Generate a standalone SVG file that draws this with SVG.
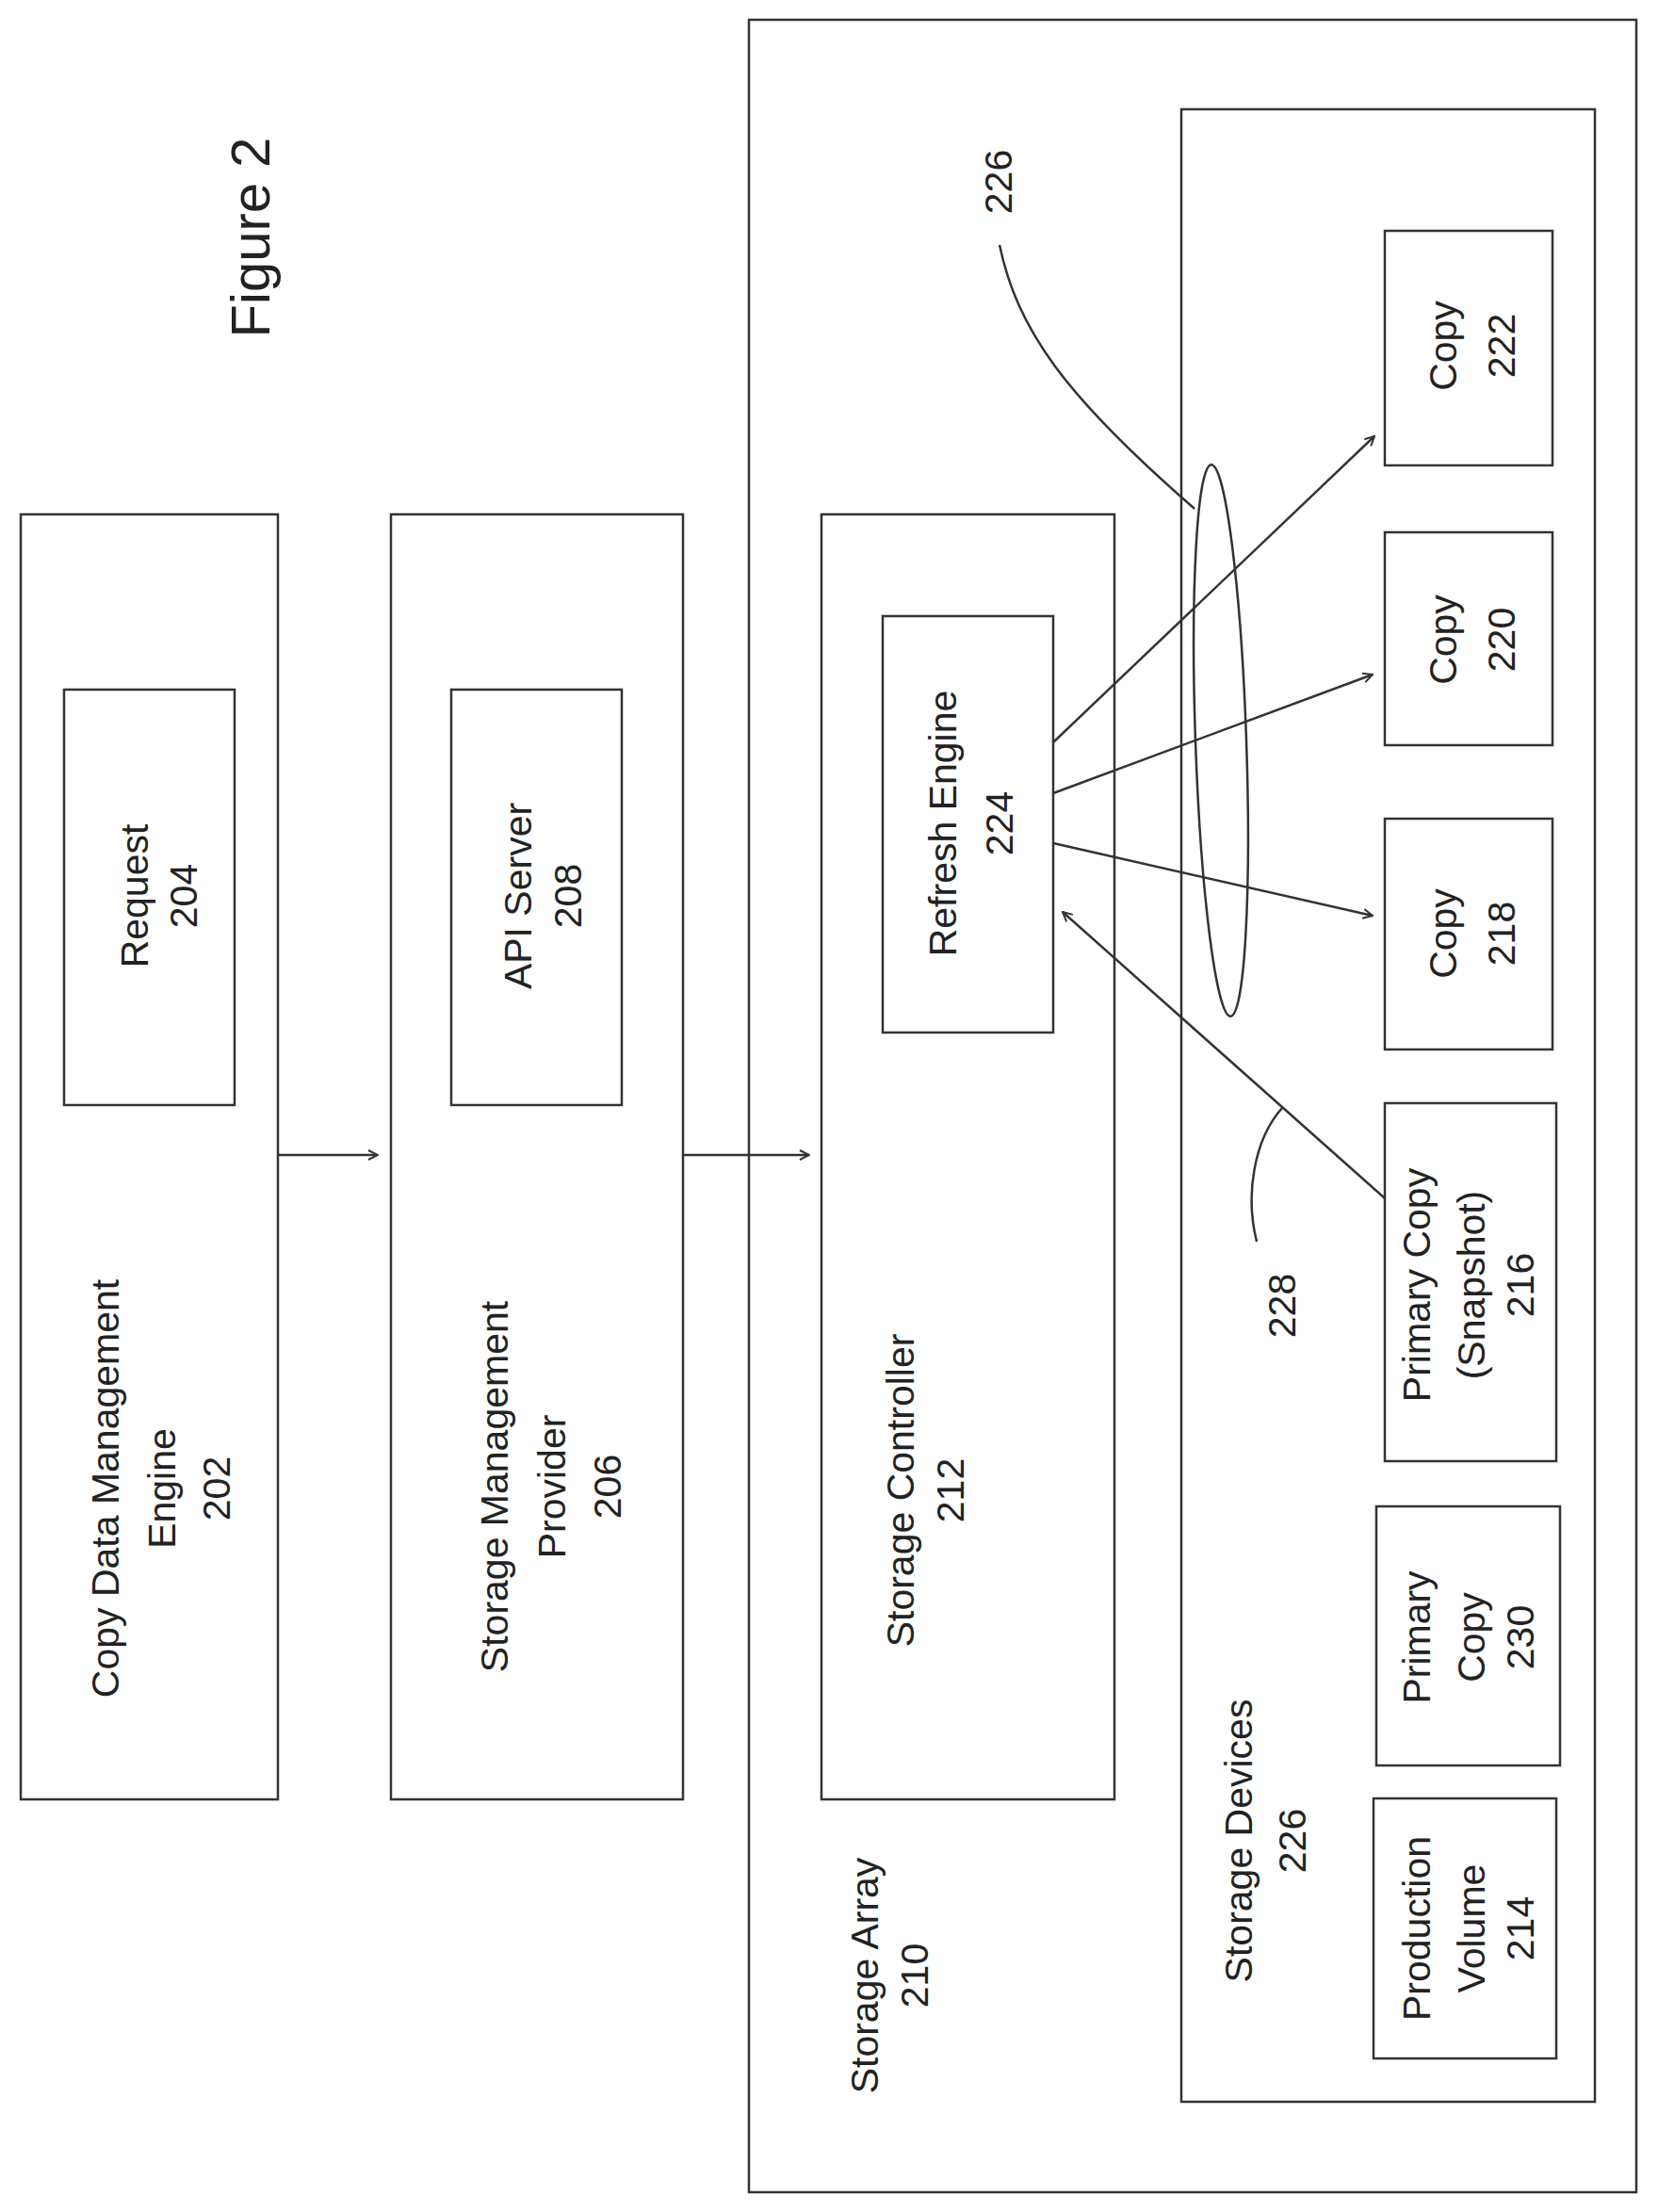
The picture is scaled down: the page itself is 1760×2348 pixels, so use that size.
<svg xmlns="http://www.w3.org/2000/svg" width="1760" height="2348" viewBox="0 0 1760 2348">
<defs>
<style>
rect{fill:none;stroke:#333;stroke-width:2.5}
.c{fill:none;stroke:#333;stroke-width:2.5}
text{font-family:"Liberation Sans",Arial,sans-serif;font-size:41px;fill:#222;text-anchor:middle}
</style>
<marker id="a" viewBox="0 0 12 12" refX="11" refY="6" markerWidth="12" markerHeight="12" markerUnits="userSpaceOnUse" orient="auto">
<path d="M1,1 L11,6 L1,11" fill="none" stroke="#333" stroke-width="2"/>
</marker>
</defs>
<rect width="1760" height="2348" style="fill:#fff;stroke:none"/>
<text transform="translate(266,252) rotate(-90)" dy="0.35em" style="font-size:58px">Figure 2</text>
<g id="n202"><rect x="22" y="546" width="273" height="1364"/>
<text transform="translate(112,1580) rotate(-90)" dy="0.35em">Copy Data Management</text>
<text transform="translate(172,1580) rotate(-90)" dy="0.35em">Engine</text>
<text transform="translate(230,1580) rotate(-90)" dy="0.35em">202</text></g>
<g id="n204"><rect x="68" y="732" width="181" height="441"/>
<text transform="translate(143,951) rotate(-90)" dy="0.35em">Request</text>
<text transform="translate(195,951) rotate(-90)" dy="0.35em">204</text></g>
<g id="n206"><rect x="415" y="546" width="310" height="1364"/>
<text transform="translate(525,1578) rotate(-90)" dy="0.35em">Storage Management</text>
<text transform="translate(586,1578) rotate(-90)" dy="0.35em">Provider</text>
<text transform="translate(645,1578) rotate(-90)" dy="0.35em">206</text></g>
<g id="n208"><rect x="479" y="732" width="181" height="441"/>
<text transform="translate(550,951) rotate(-90)" dy="0.35em">API Server</text>
<text transform="translate(603,951) rotate(-90)" dy="0.35em">208</text></g>
<g id="n210"><rect x="795" y="21" width="942" height="2306"/>
<text transform="translate(918,2097) rotate(-90)" dy="0.35em">Storage Array</text>
<text transform="translate(971,2097) rotate(-90)" dy="0.35em">210</text></g>
<g id="n212"><rect x="872" y="546" width="311" height="1364"/>
<text transform="translate(956,1582) rotate(-90)" dy="0.35em">Storage Controller</text>
<text transform="translate(1009,1582) rotate(-90)" dy="0.35em">212</text></g>
<g id="n224"><rect x="937" y="654" width="181" height="442"/>
<text transform="translate(1001,874) rotate(-90)" dy="0.35em">Refresh Engine</text>
<text transform="translate(1061,874) rotate(-90)" dy="0.35em">224</text></g>
<g id="n226"><rect x="1254" y="116" width="439" height="2115"/>
<text transform="translate(1315,1954) rotate(-90)" dy="0.35em">Storage Devices</text>
<text transform="translate(1372,1954) rotate(-90)" dy="0.35em">226</text></g>
<g id="n222"><rect x="1470" y="245" width="178" height="249"/>
<text transform="translate(1532,367) rotate(-90)" dy="0.35em">Copy</text>
<text transform="translate(1594,367) rotate(-90)" dy="0.35em">222</text></g>
<g id="n220"><rect x="1470" y="565" width="178" height="226"/>
<text transform="translate(1532,679) rotate(-90)" dy="0.35em">Copy</text>
<text transform="translate(1594,679) rotate(-90)" dy="0.35em">220</text></g>
<g id="n218"><rect x="1470" y="869" width="178" height="245"/>
<text transform="translate(1532,991) rotate(-90)" dy="0.35em">Copy</text>
<text transform="translate(1594,991) rotate(-90)" dy="0.35em">218</text></g>
<g id="n216"><rect x="1470" y="1171" width="182" height="380"/>
<text transform="translate(1504,1364) rotate(-90)" dy="0.35em">Primary Copy</text>
<text transform="translate(1562,1364) rotate(-90)" dy="0.35em">(Snapshot)</text>
<text transform="translate(1614,1364) rotate(-90)" dy="0.35em">216</text></g>
<g id="n230"><rect x="1461" y="1599" width="195" height="275"/>
<text transform="translate(1504,1738) rotate(-90)" dy="0.35em">Primary</text>
<text transform="translate(1562,1738) rotate(-90)" dy="0.35em">Copy</text>
<text transform="translate(1614,1738) rotate(-90)" dy="0.35em">230</text></g>
<g id="n214"><rect x="1458" y="1909" width="194" height="276"/>
<text transform="translate(1504,2047) rotate(-90)" dy="0.35em">Production</text>
<text transform="translate(1562,2047) rotate(-90)" dy="0.35em">Volume</text>
<text transform="translate(1614,2047) rotate(-90)" dy="0.35em">214</text></g>
<g id="labels">
<text transform="translate(1060,193) rotate(-90)" dy="0.35em">226</text>
<text transform="translate(1361,1386) rotate(-90)" dy="0.35em">228</text>
</g>
<g id="connectors">
<line class="c" x1="295" y1="1226" x2="401" y2="1226" marker-end="url(#a)"/>
<line class="c" x1="725" y1="1226" x2="859" y2="1226" marker-end="url(#a)"/>
<line class="c" x1="1118" y1="788" x2="1459" y2="463" marker-end="url(#a)"/>
<line class="c" x1="1118" y1="842" x2="1457" y2="716" marker-end="url(#a)"/>
<line class="c" x1="1118" y1="895" x2="1457" y2="972" marker-end="url(#a)"/>
<line class="c" x1="1470" y1="1272" x2="1128" y2="968" marker-end="url(#a)"/>
<ellipse class="c" cx="1296" cy="786" rx="27" ry="293" transform="rotate(-2 1296 786)"/>
<path class="c" d="M1061,260 C1080,350 1130,420 1268,540"/>
<path class="c" d="M1334,1318 C1322,1270 1330,1210 1362,1175"/>
</g>
</svg>
